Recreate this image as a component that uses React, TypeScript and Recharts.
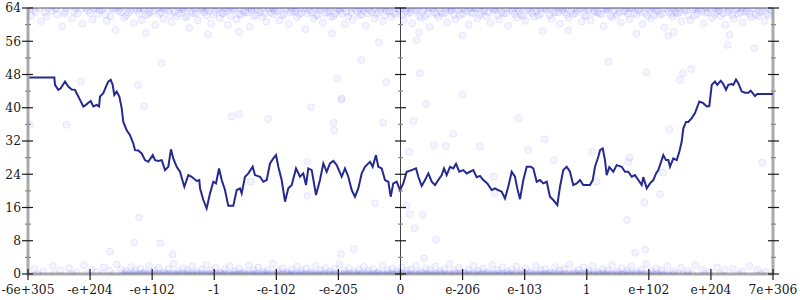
import React from 'react';
import { ComposedChart, Line, Scatter, XAxis, YAxis, ReferenceLine } from 'recharts';

// ---------- data ----------
const xTickLabels = ['-6e+305', '-e+204', '-e+102', '-1', '-e-102', '-e-205', '0', 'e-206', 'e-103', '1', 'e+102', 'e+204', '7e+306'];
const xTicks = [0, 1, 2, 3, 4, 5, 6, 7, 8, 9, 10, 11, 12];
const yTicks = [0, 4, 8, 12, 16, 20, 24, 28, 32, 36, 40, 44, 48, 52, 56, 60, 64];

// running average line (x in tick-index units)
const lineX = [
  0, 0.424, 0.435, 0.488, 0.527, 0.596, 0.649, 0.704, 0.757, 0.784, 0.838, 0.891, 0.934, 0.971, 1.01, 1.052, 1.107, 1.144, 1.16, 1.213,
  1.256, 1.293, 1.332, 1.364, 1.39, 1.429, 1.471, 1.509, 1.535, 1.59, 1.643, 1.696, 1.724, 1.777, 1.831, 1.885, 1.938, 2.009, 2.046, 2.099,
  2.154, 2.207, 2.26, 2.303, 2.34, 2.395, 2.448, 2.518, 2.582, 2.637, 2.717, 2.759, 2.771, 2.824, 2.878, 2.932, 2.985, 3.028, 3.077, 3.12,
  3.173, 3.226, 3.307, 3.362, 3.415, 3.442, 3.495, 3.549, 3.619, 3.656, 3.737, 3.79, 3.845, 3.898, 3.951, 3.995, 4.032, 4.086, 4.14, 4.193,
  4.248, 4.317, 4.381, 4.434, 4.478, 4.515, 4.57, 4.639, 4.703, 4.757, 4.811, 4.864, 4.918, 4.972, 5.053, 5.106, 5.159, 5.214, 5.267, 5.32,
  5.375, 5.428, 5.509, 5.552, 5.605, 5.642, 5.697, 5.75, 5.804, 5.842, 5.884, 5.939, 5.981, 5.992, 6.045, 6.1, 6.18, 6.25, 6.287, 6.341,
  6.395, 6.448, 6.503, 6.556, 6.609, 6.664, 6.701, 6.744, 6.797, 6.851, 6.894, 6.947, 7.012, 7.066, 7.119, 7.173, 7.227, 7.281, 7.334, 7.398,
  7.469, 7.522, 7.575, 7.63, 7.683, 7.736, 7.791, 7.844, 7.881, 7.925, 7.978, 8.033, 8.097, 8.139, 8.194, 8.247, 8.3, 8.355, 8.408, 8.461,
  8.526, 8.569, 8.622, 8.677, 8.73, 8.783, 8.838, 8.891, 8.944, 8.999, 9.052, 9.096, 9.133, 9.186, 9.214, 9.257, 9.294, 9.321, 9.363, 9.428,
  9.482, 9.563, 9.616, 9.669, 9.724, 9.777, 9.83, 9.885, 9.911, 9.966, 10.019, 10.072, 10.116, 10.153, 10.207, 10.233, 10.276, 10.314, 10.341, 10.394,
  10.449, 10.491, 10.529, 10.555, 10.599, 10.636, 10.691, 10.744, 10.813, 10.877, 10.932, 10.974, 11.013, 11.066, 11.103, 11.158, 11.2, 11.243, 11.28, 11.335,
  11.361, 11.404, 11.441, 11.496, 11.549, 11.602, 11.641, 11.673, 11.71, 11.747, 12,
];
const lineY = [
  47.3, 47.3, 45.5, 44.3, 44.7, 46.3, 45.1, 44.4, 44.3, 43.5, 41.9, 40.3, 40.7, 41.2, 41.6, 40.3, 40.7, 40.3, 42.7, 43.5,
  45.1, 46.3, 46.7, 45.5, 43.1, 43.9, 42.7, 39.9, 36.6, 34.6, 33.4, 31.4, 29.8, 29.7, 29.0, 27.4, 27.0, 28.6, 27.4, 27.2,
  27.4, 25.0, 25.8, 30.0, 27.8, 25.8, 24.6, 21.0, 23.8, 23.4, 22.4, 22.6, 20.6, 17.8, 15.8, 19.4, 22.2, 21.8, 25.4, 22.6,
  20.2, 16.4, 16.4, 20.2, 20.6, 19.4, 23.4, 24.2, 25.8, 23.8, 23.4, 22.2, 22.6, 26.6, 27.8, 28.6, 25.8, 22.6, 17.4, 20.6,
  21.4, 25.4, 23.4, 24.2, 21.4, 25.4, 25.0, 19.0, 22.6, 26.6, 24.6, 26.6, 27.2, 26.2, 23.4, 25.4, 23.4, 20.2, 18.6, 20.6,
  24.2, 25.8, 27.0, 25.8, 28.6, 25.8, 25.4, 22.6, 22.2, 18.6, 21.8, 22.2, 20.6, 20.2, 21.8, 24.6, 25.0, 25.4, 23.4, 21.2,
  22.6, 24.2, 22.2, 21.4, 22.6, 23.8, 25.4, 23.8, 25.8, 25.4, 26.5, 24.6, 25.0, 24.2, 24.6, 25.0, 23.3, 23.6, 22.6, 21.8,
  20.2, 20.6, 20.2, 19.8, 18.2, 21.0, 24.6, 23.4, 20.6, 18.0, 22.6, 25.8, 25.8, 25.4, 22.2, 22.6, 21.8, 22.2, 18.6, 17.8,
  16.6, 21.0, 25.0, 25.8, 24.6, 21.4, 21.8, 22.6, 21.4, 21.4, 21.4, 22.6, 25.8, 28.2, 29.8, 30.2, 27.4, 23.8, 25.7, 24.6,
  26.2, 25.8, 24.6, 24.6, 23.4, 23.8, 22.6, 21.4, 23.3, 20.6, 21.8, 22.6, 24.2, 25.0, 27.4, 28.6, 27.4, 27.4, 25.8, 27.8,
  27.4, 29.4, 31.8, 35.0, 36.6, 36.6, 37.5, 38.7, 41.5, 41.1, 40.3, 40.4, 45.5, 46.3, 45.5, 46.5, 45.7, 44.3, 45.5, 45.7,
  45.5, 46.8, 45.9, 43.9, 43.6, 43.6, 44.1, 43.5, 42.8, 43.3, 43.3,
];

// raw samples pinned at the top (value 64)
const topEdgeX = [
  0.04, 0.19, 0.33, 0.46, 0.62, 0.77, 0.93, 1.06, 1.21, 1.34, 1.49, 1.61, 1.72, 1.86, 1.97, 2.09, 2.22, 2.33, 2.45, 2.58,
  2.69, 2.81, 2.94, 3.07, 3.18, 3.29, 3.42, 3.55, 3.66, 3.78, 3.89, 4.02, 4.14, 4.25, 4.38, 4.49, 4.61, 4.73, 4.86, 4.97,
  5.09, 5.21, 5.34, 5.45, 5.57, 5.69, 5.81, 5.93, 6.04, 6.16, 6.28, 6.39, 6.52, 6.63, 6.75, 6.88, 6.99, 7.11, 7.24, 7.35,
  7.47, 7.59, 7.71, 7.83, 7.95, 8.06, 8.19, 8.31, 8.42, 8.55, 8.66, 8.79, 8.91, 9.02, 9.15, 9.27, 9.38, 9.5, 9.63, 9.74,
  9.86, 9.98, 10.1, 10.23, 10.35, 10.46, 10.58, 10.71, 10.83, 10.94, 11.07, 11.19, 11.31, 11.43, 11.56, 11.68, 11.8, 11.93,
  1.1, 1.4, 1.8, 2.15, 2.5, 2.87, 3.24, 3.6, 3.95, 4.31, 4.67, 5.03, 5.39, 5.75, 6.1, 6.46, 6.82, 7.18, 7.53, 7.89,
  8.25, 8.61, 8.97, 9.33, 9.69, 10.05, 10.4, 10.76, 11.12, 11.5,
];
// raw samples in the upper cloud
const topCloud: [number, number][] = [
  [0.05, 62.1], [0.12, 63.0], [0.21, 60.8], [0.3, 61.9], [0.38, 63.3], [0.47, 62.4], [0.55, 59.6], [0.6, 63.1], [0.71, 61.5], [0.8, 62.7],
  [0.88, 60.2], [0.97, 63.4], [1.04, 61.2], [1.12, 62.5], [1.19, 63.6], [1.27, 60.9], [1.33, 62.0], [1.41, 58.7], [1.46, 63.2], [1.55, 61.7],
  [1.62, 62.9], [1.7, 60.4], [1.76, 63.5], [1.83, 61.1], [1.9, 62.3], [1.97, 63.0], [2.05, 59.9], [2.11, 62.6], [2.18, 61.4], [2.26, 63.3],
  [2.31, 60.6], [2.4, 62.1], [2.47, 63.7], [2.53, 61.8], [2.6, 59.2], [2.66, 62.8], [2.74, 61.0], [2.8, 63.4], [2.88, 62.2], [2.95, 60.3],
  [3.02, 63.1], [3.09, 61.6], [3.15, 62.7], [3.22, 60.0], [3.3, 63.5], [3.36, 61.3], [3.43, 62.4], [3.5, 63.0], [3.57, 59.5], [3.63, 62.0],
  [3.7, 63.6], [3.77, 61.9], [3.84, 60.7], [3.91, 62.9], [3.98, 63.3], [4.05, 61.0], [4.12, 62.5], [4.2, 60.2], [4.26, 63.2], [4.33, 61.7],
  [4.4, 62.8], [4.47, 58.9], [4.53, 63.5], [4.6, 61.4], [4.67, 62.2], [4.75, 60.5], [4.82, 63.0], [4.88, 61.8], [4.95, 62.6], [5.02, 63.4],
  [5.1, 60.1], [5.16, 62.0], [5.23, 61.2], [5.3, 63.1], [5.37, 62.4], [5.44, 59.8], [5.5, 63.6], [5.58, 61.5], [5.65, 62.9], [5.72, 60.8],
  [5.78, 63.2], [5.85, 61.9], [5.92, 62.5], [5.99, 63.5], [6.05, 61.1], [6.12, 62.7], [6.19, 60.3], [6.26, 63.3], [6.33, 61.6], [6.4, 62.1],
  [6.47, 59.4], [6.54, 63.0], [6.61, 61.8], [6.68, 62.6], [6.75, 60.6], [6.82, 63.4], [6.89, 61.3], [6.96, 62.3], [7.03, 63.7], [7.1, 60.0],
  [7.17, 62.8], [7.24, 61.5], [7.31, 63.1], [7.38, 62.0], [7.45, 60.4], [7.52, 63.5], [7.59, 61.2], [7.66, 62.7], [7.73, 59.7], [7.8, 63.2],
  [7.87, 61.7], [7.94, 62.4], [8.01, 60.9], [8.08, 63.3], [8.15, 61.9], [8.22, 62.2], [8.29, 58.4], [8.36, 63.6], [8.43, 61.4], [8.5, 62.9],
  [8.57, 60.2], [8.64, 63.0], [8.71, 61.6], [8.78, 62.5], [8.85, 63.4], [8.92, 60.7], [8.99, 62.1], [9.06, 61.0], [9.13, 63.2], [9.2, 62.6],
  [9.27, 59.6], [9.34, 63.5], [9.41, 61.8], [9.48, 62.3], [9.55, 60.5], [9.62, 63.1], [9.69, 61.3], [9.76, 62.8], [9.83, 63.6], [9.9, 60.1],
  [9.97, 62.0], [10.04, 61.5], [10.11, 63.3], [10.18, 62.4], [10.25, 59.3], [10.32, 63.0], [10.39, 61.9], [10.46, 62.7], [10.53, 60.8], [10.6, 63.4],
  [10.67, 61.1], [10.74, 62.2], [10.81, 63.7], [10.88, 60.3], [10.95, 62.9], [11.02, 61.6], [11.09, 63.1], [11.16, 62.0], [11.23, 59.9], [11.3, 63.5],
  [11.37, 61.4], [11.44, 62.6], [11.51, 60.6], [11.58, 63.2], [11.65, 61.8], [11.72, 62.4], [11.79, 63.0], [11.86, 60.9], [11.93, 62.2],
  [2.9, 57.6], [3.4, 58.3], [4.9, 57.9], [6.3, 58.1], [7.0, 57.4], [8.7, 58.6], [9.8, 57.8], [10.4, 58.2], [11.3, 57.5], [1.9, 58.0],
];
const topCloudDense: [number, number][] = [
  [0.08, 63.6], [0.27, 62.9], [0.44, 63.8], [0.58, 62.6], [0.74, 63.2], [0.86, 63.9], [1.0, 62.8], [1.15, 63.4], [1.25, 62.4], [1.37, 63.7],
  [1.5, 63.0], [1.58, 62.2], [1.66, 63.5], [1.79, 62.7], [1.86, 63.8], [1.94, 62.5], [2.02, 63.3], [2.14, 62.9], [2.2, 63.7], [2.29, 62.3],
  [2.36, 63.1], [2.43, 62.7], [2.5, 63.6], [2.56, 62.0], [2.63, 63.3], [2.7, 62.6], [2.77, 63.9], [2.84, 62.9], [2.91, 63.4], [2.99, 62.4],
  [3.06, 63.7], [3.13, 62.8], [3.19, 63.2], [3.27, 62.1], [3.33, 63.8], [3.4, 62.6], [3.47, 63.3], [3.54, 62.9], [3.6, 63.6], [3.67, 62.3],
  [3.74, 63.0], [3.81, 62.7], [3.88, 63.9], [3.95, 62.5], [4.02, 63.4], [4.09, 62.2], [4.16, 63.7], [4.23, 62.9], [4.3, 63.2], [4.37, 62.4],
  [4.44, 63.8], [4.5, 62.7], [4.57, 63.0], [4.64, 62.3], [4.71, 63.6], [4.78, 62.8], [4.85, 63.3], [4.92, 62.0], [4.99, 63.7], [5.06, 62.6],
  [5.13, 63.1], [5.2, 62.9], [5.27, 63.8], [5.34, 62.3], [5.41, 63.4], [5.47, 62.7], [5.54, 63.0], [5.61, 62.5], [5.68, 63.7], [5.75, 62.2],
  [5.82, 63.3], [5.89, 62.8], [5.96, 63.9], [6.02, 62.4], [6.09, 63.2], [6.16, 62.9], [6.23, 63.6], [6.3, 62.1], [6.37, 63.4], [6.44, 62.7],
  [6.51, 63.8], [6.58, 62.5], [6.65, 63.1], [6.72, 62.9], [6.79, 63.5], [6.86, 62.3], [6.93, 63.7], [7.0, 62.6], [7.07, 63.2], [7.14, 62.8],
  [7.21, 63.9], [7.28, 62.4], [7.35, 63.3], [7.42, 62.9], [7.49, 63.6], [7.56, 62.2], [7.63, 63.0], [7.7, 62.7], [7.77, 63.8], [7.84, 62.5],
  [7.91, 63.4], [7.98, 62.1], [8.05, 63.7], [8.12, 62.8], [8.19, 63.2], [8.26, 62.6], [8.33, 63.9], [8.4, 62.3], [8.47, 63.1], [8.54, 62.9],
  [8.61, 63.6], [8.68, 62.4], [8.75, 63.3], [8.82, 62.7], [8.89, 63.8], [8.96, 62.2], [9.03, 63.5], [9.1, 62.8], [9.17, 63.0], [9.24, 62.5],
  [9.31, 63.7], [9.38, 62.1], [9.45, 63.4], [9.52, 62.9], [9.59, 63.2], [9.66, 62.6], [9.73, 63.9], [9.8, 62.4], [9.87, 63.1], [9.94, 62.8],
  [10.01, 63.6], [10.08, 62.3], [10.15, 63.3], [10.22, 62.7], [10.29, 63.8], [10.36, 62.5], [10.43, 63.0], [10.5, 62.9], [10.57, 63.5], [10.64, 62.2],
  [10.71, 63.7], [10.78, 62.6], [10.85, 63.2], [10.92, 62.8], [10.99, 63.9], [11.06, 62.4], [11.13, 63.4], [11.2, 62.7], [11.27, 63.0], [11.34, 62.3],
  [11.41, 63.6], [11.48, 62.9], [11.55, 63.1], [11.62, 62.5], [11.69, 63.8], [11.76, 62.1], [11.83, 63.3], [11.9, 62.7], [11.97, 63.5],
];
// sparse samples in the middle of the range
const midCloud: [number, number][] = [
  [2.15, 50.7], [1.77, 45.5], [0.85, 46.3], [1.87, 40.3], [0.62, 35.9], [0.03, 35.9], [3.28, 37.9], [3.4, 38.5], [3.87, 37.3], [4.56, 40.1],
  [4.92, 36.4], [4.93, 34.5], [5.72, 36.4], [4.5, 27.0], [3.59, 22.2], [4.5, 18.8], [5.59, 17.0], [5.05, 41.9], [6.41, 40.9], [6.21, 36.8],
  [6.85, 33.7], [6.54, 31.0], [6.73, 30.8], [7.28, 30.6], [7.9, 37.5], [8.32, 32.4], [8.06, 29.8], [8.47, 27.4], [9.09, 29.4], [6.14, 29.4],
  [7.5, 23.4], [6.1, 16.4], [6.15, 14.4], [6.36, 14.2], [9.16, 22.2], [7.52, 19.4], [9.35, 51.1], [9.96, 48.5], [10.55, 48.3], [10.68, 49.3],
  [10.5, 46.7], [10.33, 34.8], [9.69, 28.0], [9.67, 27.0], [10.23, 24.4], [10.18, 19.2], [11.83, 26.8], [11.7, 54.3], [10.31, 57.3], [11.27, 55.1],
  [5.65, 55.7], [5.37, 51.5], [4.98, 47.1], [5.77, 46.2], [6.31, 48.3], [6.26, 56.3], [5.05, 42.3], [7.0, 43.2], [6.23, 11.0], [6.57, 8.3],
  [5.25, 6.0], [5.04, 4.8], [6.38, 3.8], [1.79, 13.6], [1.71, 7.6], [2.13, 7.4], [1.32, 5.4], [2.33, 4.7], [9.93, 17.2], [9.65, 13.0],
  [9.94, 5.9], [9.78, 5.1],
];
// raw samples pinned at the bottom (value 0)
const bottomEdgeX = [
  0.15, 0.42, 0.7, 0.95, 1.2, 1.38, 1.52, 1.6, 1.68, 1.75, 1.83, 1.9, 1.96, 2.04, 2.1, 2.17, 2.25, 2.31, 2.38, 2.44,
  2.52, 2.58, 2.65, 2.71, 2.79, 2.85, 2.92, 2.98, 3.05, 3.12, 3.18, 3.26, 3.32, 3.39, 3.45, 3.52, 3.6, 3.66, 3.73, 3.8,
  3.86, 3.93, 4.0, 4.07, 4.13, 4.2, 4.27, 4.34, 4.4, 4.47, 4.55, 4.61, 4.68, 4.75, 4.82, 4.88, 4.95, 5.02, 5.09, 5.15,
  5.22, 5.3, 5.36, 5.43, 5.5, 5.57, 5.63, 5.7, 5.77, 5.84, 5.9, 5.97, 6.03, 6.1, 6.17, 6.24, 6.3, 6.37, 6.44, 6.51,
  6.58, 6.64, 6.71, 6.78, 6.85, 6.91, 6.98, 7.05, 7.12, 7.19, 7.25, 7.32, 7.39, 7.46, 7.53, 7.6, 7.66, 7.73, 7.8, 7.87,
  7.94, 8.0, 8.07, 8.14, 8.21, 8.28, 8.35, 8.41, 8.48, 8.55, 8.62, 8.69, 8.76, 8.83, 8.9, 8.96, 9.03, 9.1, 9.17, 9.24,
  9.31, 9.38, 9.45, 9.52, 9.58, 9.66, 9.73, 9.8, 9.88, 9.95, 10.03, 10.12, 10.2, 10.3, 10.41, 10.55, 10.7, 10.9, 11.15, 11.45, 11.8,
];
const bottomEdgeDenseX = [
  1.56, 1.71, 1.86, 2.0, 2.14, 2.28, 2.41, 2.55, 2.68, 2.82, 2.95, 3.09, 3.22, 3.36, 3.49, 3.63, 3.76, 3.9, 4.03, 4.17,
  4.3, 4.44, 4.58, 4.71, 4.85, 4.98, 5.12, 5.26, 5.39, 5.53, 5.66, 5.8, 5.94, 6.07, 6.21, 6.34, 6.48, 6.61, 6.75, 6.88,
  7.02, 7.15, 7.29, 7.43, 7.56, 7.7, 7.84, 7.97, 8.11, 8.24, 8.38, 8.52, 8.65, 8.79, 8.93, 9.06, 9.2, 9.34, 9.48, 9.62,
  9.76, 9.91, 10.07, 10.25, 10.48,
  1.64, 1.79, 1.93, 2.07, 2.21, 2.35, 2.48, 2.62, 2.75, 2.89, 3.02, 3.16, 3.29, 3.43, 3.56, 3.69, 3.83, 3.97, 4.1, 4.24,
  4.37, 4.51, 4.65, 4.78, 4.92, 5.05, 5.19, 5.33, 5.46, 5.6, 5.73, 5.87, 6.0, 6.14, 6.28, 6.41, 6.55, 6.68, 6.82, 6.95,
  7.09, 7.22, 7.36, 7.5, 7.63, 7.77, 7.9, 8.04, 8.18, 8.31, 8.45, 8.59, 8.72, 8.86, 9.0, 9.13, 9.27, 9.41, 9.55, 9.69,
  9.84, 9.99, 10.16, 10.36, 10.62,
];
// raw samples in the lower cloud
const bottomCloud: [number, number][] = [
  [0.1, 1.2], [0.25, 0.6], [0.4, 1.9], [0.52, 0.9], [0.66, 1.4], [0.78, 0.4], [0.9, 2.1], [1.02, 1.0], [1.1, 0.5], [1.22, 1.6],
  [1.31, 0.8], [1.43, 2.3], [1.5, 1.1], [1.58, 0.6], [1.66, 1.7], [1.73, 0.9], [1.81, 1.3], [1.88, 0.4], [1.95, 2.0], [2.03, 0.8],
  [2.1, 1.5], [2.19, 0.5], [2.27, 1.2], [2.34, 2.4], [2.42, 0.7], [2.5, 1.4], [2.57, 0.9], [2.64, 1.8], [2.72, 0.5], [2.8, 1.1],
  [2.87, 2.2], [2.94, 0.8], [3.02, 1.5], [3.1, 0.4], [3.17, 1.2], [3.25, 1.9], [3.33, 0.7], [3.4, 1.3], [3.48, 0.5], [3.56, 2.1],
  [3.63, 0.9], [3.71, 1.6], [3.79, 0.6], [3.86, 1.0], [3.94, 2.5], [4.02, 0.8], [4.1, 1.4], [4.17, 0.5], [4.25, 1.1], [4.33, 1.8],
  [4.4, 0.7], [4.48, 1.3], [4.56, 0.4], [4.63, 2.0], [4.71, 0.9], [4.79, 1.5], [4.86, 0.6], [4.94, 1.2], [5.02, 2.3], [5.1, 0.8],
  [5.17, 1.4], [5.25, 0.5], [5.33, 1.0], [5.41, 1.7], [5.48, 0.7], [5.56, 1.2], [5.64, 0.4], [5.71, 2.1], [5.79, 0.9], [5.87, 1.3],
  [5.94, 0.6], [6.02, 1.6], [6.1, 0.8], [6.17, 1.1], [6.25, 2.0], [6.33, 0.5], [6.41, 1.4], [6.48, 0.9], [6.56, 1.8], [6.64, 0.6],
  [6.71, 1.2], [6.79, 2.4], [6.87, 0.7], [6.94, 1.5], [7.02, 0.4], [7.1, 1.0], [7.18, 1.9], [7.25, 0.8], [7.33, 1.3], [7.41, 0.5],
  [7.48, 2.2], [7.56, 0.9], [7.64, 1.6], [7.72, 0.6], [7.79, 1.1], [7.87, 1.8], [7.95, 0.7], [8.02, 1.4], [8.1, 0.5], [8.18, 2.0],
  [8.26, 0.9], [8.33, 1.2], [8.41, 0.4], [8.49, 1.7], [8.56, 0.8], [8.64, 1.3], [8.72, 2.3], [8.8, 0.6], [8.87, 1.0], [8.95, 1.6],
  [9.03, 0.7], [9.1, 1.9], [9.18, 0.5], [9.26, 1.2], [9.34, 0.9], [9.41, 2.1], [9.49, 0.6], [9.57, 1.4], [9.65, 0.8], [9.72, 1.8],
  [9.8, 0.5], [9.88, 1.1], [9.96, 2.4], [10.04, 0.7], [10.12, 1.3], [10.2, 0.9], [10.3, 1.9], [10.4, 0.6], [10.52, 1.5], [10.63, 0.8],
  [10.75, 2.2], [10.86, 1.0], [10.98, 0.5], [11.1, 1.6], [11.22, 0.9], [11.35, 1.3], [11.5, 0.6], [11.62, 1.9], [11.75, 1.0], [11.88, 0.5],
];

// ---------- derived tables ----------
const lineData = lineX.map((x, i) => ({ x, y: lineY[i] }));
const scatterData = [
  ...topEdgeX.map((x) => ({ x, y: 64 })),
  ...topCloud.map(([x, y]) => ({ x, y })),
  ...topCloudDense.map(([x, y]) => ({ x, y })),
  ...midCloud.map(([x, y]) => ({ x, y })),
  ...bottomEdgeX.map((x) => ({ x, y: 0 })),
  ...bottomEdgeDenseX.map((x) => ({ x, y: 0 })),
  ...bottomCloud.map(([x, y]) => ({ x, y })),
];

// ---------- layout ----------
const W = 800;
const H = 300;
const MARGIN = { top: 8, right: 27, left: 0, bottom: 0 };
const Y_AXIS_W = 28;
const X_AXIS_H = 26;
const PLOT_LEFT = MARGIN.left + Y_AXIS_W;
const PLOT_RIGHT = W - MARGIN.right;
const PLOT_BOTTOM = H - X_AXIS_H;
const CENTER = (PLOT_LEFT + PLOT_RIGHT) / 2;
const TEXT_STYLE: React.CSSProperties = {
  fontFamily: '"DejaVu Serif", "Liberation Serif", "Noto Serif", serif',
  fontSize: 12.3,
  fill: '#1a1a1a',
};

const YTick = (props: any) => {
  const { y, payload } = props;
  const v = payload.value as number;
  const major = v % 8 === 0;
  const c = major ? '#1a1a1a' : '#8a8a8a';
  const a = major ? 6 : 3;
  const b = major ? 5 : 3;
  return (
    <g>
      <line x1={PLOT_LEFT - a} x2={PLOT_LEFT + b} y1={y} y2={y} stroke={c} strokeWidth={1.2} />
      <line x1={CENTER - (major ? 5.5 : 2.5)} x2={CENTER + (major ? 5.5 : 2.5)} y1={y} y2={y} stroke={c} strokeWidth={1.2} />
      <line x1={PLOT_RIGHT - (major ? 5 : 2)} x2={PLOT_RIGHT + (major ? 6 : 3)} y1={y} y2={y} stroke={c} strokeWidth={1.2} />
      {major && (
        <text x={PLOT_LEFT - 7} y={y} dy="0.36em" textAnchor="end" style={TEXT_STYLE}>
          {v}
        </text>
      )}
    </g>
  );
};

const XTick = (props: any) => {
  const { x, payload } = props;
  return (
    <g>
      <line x1={x} x2={x} y1={PLOT_BOTTOM - 5} y2={PLOT_BOTTOM + 6} stroke="#1a1a1a" strokeWidth={1.2} />
      <text x={x} y={294} textAnchor="middle" style={TEXT_STYLE}>
        {xTickLabels[payload.value]}
      </text>
    </g>
  );
};

const Dot = (props: any) => (
  <circle cx={props.cx} cy={props.cy} r={3.5} fill="rgba(30,30,255,0.05)" stroke="rgba(30,30,255,0.08)" strokeWidth={1} />
);

export default function App() {
  return (
    <div style={{ position: 'absolute', left: 0, top: 0, width: W, height: H, background: '#fff' }}>
      <ComposedChart width={W} height={H} margin={MARGIN}>
        <XAxis
          type="number"
          dataKey="x"
          domain={[0, 12]}
          ticks={xTicks}
          interval={0}
          height={X_AXIS_H}
          tickLine={false}
          axisLine={{ stroke: '#aaaaaa', strokeWidth: 3 }}
          tick={<XTick />}
          allowDataOverflow
        />
        <YAxis
          type="number"
          dataKey="y"
          domain={[0, 64]}
          ticks={yTicks}
          interval={0}
          width={Y_AXIS_W}
          tickLine={false}
          axisLine={{ stroke: '#aaaaaa', strokeWidth: 3 }}
          tick={<YTick />}
          allowDataOverflow
        />
        <ReferenceLine y={64} stroke="#aaaaaa" strokeWidth={2} />
        <ReferenceLine x={12} stroke="#aaaaaa" strokeWidth={3} />
        <ReferenceLine x={6} stroke="#444444" strokeWidth={1} />
        <Scatter data={scatterData} dataKey="y" shape={<Dot />} isAnimationActive={false} />
        <Line
          data={lineData}
          dataKey="y"
          type="linear"
          stroke="#252a8f"
          strokeWidth={2}
          dot={false}
          activeDot={false}
          isAnimationActive={false}
        />
      </ComposedChart>
    </div>
  );
}
